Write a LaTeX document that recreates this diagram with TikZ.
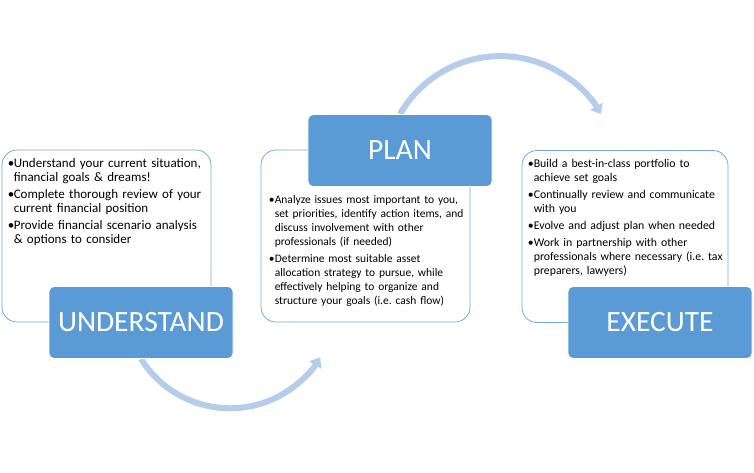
\documentclass[tikz,border=0pt]{standalone}
\usepackage{fontspec}
\setmainfont{Carlito}
\usetikzlibrary{positioning,arrows.meta,backgrounds}
\definecolor{stepblue}{HTML}{5B9BD5}
\definecolor{arrowblue}{HTML}{B5CDEA}
\newcommand{\bul}[1]{\hangindent=6pt\hangafter=1\noindent\makebox[6pt][l]{\textbullet}#1\par}

\begin{document}
\begin{tikzpicture}[x=1pt,y=-1pt,
		infobox/.style={draw=stepblue!85!white,line width=0.8pt,fill=white,rounded corners=15pt,minimum width=209pt,minimum height=172pt},
		stepbox/.style={draw=white,line width=0.8pt,fill=stepblue,rounded corners=5pt,minimum width=184pt,minimum height=72pt,text=white,font=\fontsize{29.5}{33}\selectfont},
		listtext/.style={inner sep=0pt,anchor=north west,text width=200pt,align=left,font=\fontsize{11.5}{14}\selectfont,execute at begin node={\setlength{\parskip}{3pt}\frenchspacing}},
		flow/.style={arrowblue,line width=6pt,-{Triangle[length=9pt,width=14pt]}}]
				% page: 754 x 472
				\useasboundingbox (0,0) rectangle (754,472);
				% boxes with the lists
				\node[infobox] (ubox) at (106.5,236) {};
				\node[infobox] (pbox) at (365.5,236) {};
				\node[infobox,minimum width=206pt] (ebox) at (625,236.5) {};
				\node[listtext,font=\fontsize{13}{14}\selectfont,below right=9pt and 6pt of ubox.north west] (ulist) {%
					\bul{Understand your current situation,\newline financial goals \& dreams!}%
					\bul{Complete thorough review of your\newline current financial position}%
					\bul{Provide financial scenario analysis\newline \& options to consider}};
				\node[listtext,below right=46pt and 8pt of pbox.north west] (plist) {%
					\bul{Analyze issues most important to you,\newline set priorities, identify action items, and\newline discuss involvement with other\newline professionals (if needed)}%
					\bul{Determine most suitable asset\newline allocation strategy to pursue, while\newline effectively helping to organize and\newline structure your goals (i.e. cash flow)}};
				\node[listtext,font=\fontsize{11.8}{14}\selectfont,below right=9pt and 6pt of ebox.north west] (elist) {%
					\bul{Build a best-in-class portfolio to\newline achieve set goals}%
					\bul{Continually review and communicate\newline with you}%
					\bul{Evolve and adjust plan when needed}%
					\bul{Work in partnership with other\newline professionals where necessary (i.e. tax\newline preparers, lawyers)}};
				% the three steps
				\node[stepbox] (understand) at (141,322.5) {UNDERSTAND};
				\node[stepbox] (plan) at (400,150.5) {PLAN};
				\node[stepbox] (execute) at (660,322.5) {EXECUTE};
				\begin{scope}[on background layer]
					\draw[flow] (understand.south) arc[start angle=148,end angle=31,radius=105];
					\draw[flow] (plan.north) arc[start angle=210,end angle=330,radius=116];
				\end{scope}
			\end{tikzpicture}
\end{document}
